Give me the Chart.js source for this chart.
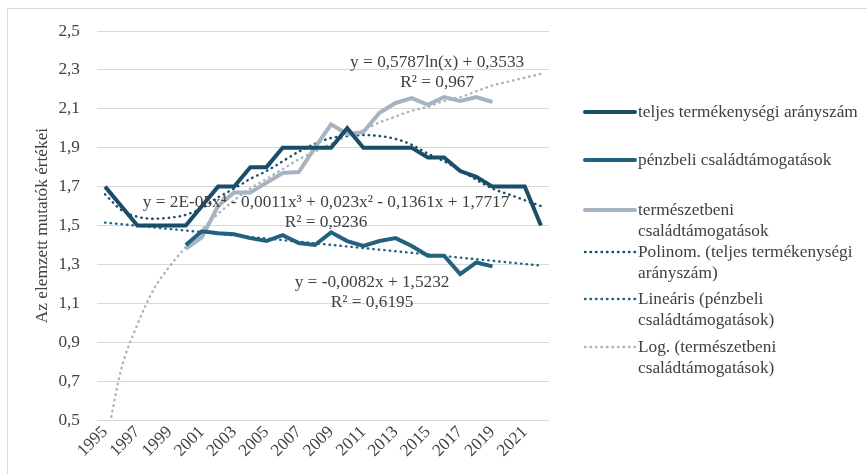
<!DOCTYPE html>
<html lang="hu">
<head>
  <meta charset="UTF-8" />
  <title>Termékenység és családtámogatások</title>
  <script src="https://cdn.jsdelivr.net/npm/chart.js"></script>
  <style>
    body { margin: 0; background: #fff; }
    #wrap { width: 867px; height: 474px; }
  </style>
</head>
<body>
  <div id="wrap"><canvas id="chart" width="867" height="474"></canvas></div>

  <script>
    const years = ['1995', '1996', '1997', '1998', '1999', '2000', '2001', '2002', '2003', '2004',
      '2005', '2006', '2007', '2008', '2009', '2010', '2011', '2012', '2013', '2014',
      '2015', '2016', '2017', '2018', '2019', '2020', '2021', '2022'];

    const teljes = [1.70, 1.60, 1.50, 1.50, 1.50, 1.50, 1.60, 1.70, 1.70, 1.80,
      1.80, 1.90, 1.90, 1.90, 1.90, 2.00, 1.90, 1.90, 1.90, 1.90,
      1.85, 1.85, 1.78, 1.75, 1.70, 1.70, 1.70, 1.50];

    const penzbeli = [null, null, null, null, null, 1.40, 1.47, 1.46, 1.455, 1.435,
      1.42, 1.45, 1.41, 1.40, 1.465, 1.42, 1.395, 1.42, 1.435, 1.395,
      1.345, 1.345, 1.25, 1.31, 1.29, null, null, null];

    const termeszetbeni = [null, null, null, null, null, 1.38, 1.44, 1.60, 1.67, 1.67,
      1.72, 1.77, 1.775, 1.90, 2.02, 1.97, 1.98, 2.08, 2.13, 2.155,
      2.12, 2.16, 2.14, 2.16, 2.135, null, null, null];

    // trendlines
    const polTrend = [1.66, 1.58, 1.545, 1.535, 1.54, 1.555, 1.59, 1.645, 1.69, 1.74,
      1.78, 1.83, 1.88, 1.92, 1.95, 1.96, 1.965, 1.96, 1.945, 1.915,
      1.87, 1.83, 1.785, 1.735, 1.69, 1.66, 1.63, 1.60];

    const linTrend = [1.515, null, null, null, null, null, null, null, null, null,
      null, null, null, null, null, null, null, null, null, null,
      null, null, null, null, null, null, null, 1.294];

    const logTrend = [0.35, 0.76, 0.99, 1.17, 1.29, 1.39, 1.48, 1.56, 1.63, 1.69,
      1.74, 1.79, 1.84, 1.88, 1.92, 1.96, 1.99, 2.03, 2.06, 2.09,
      2.11, 2.14, 2.16, 2.19, 2.22, 2.24, 2.26, 2.28];

    const legendLines = [
      ['teljes termékenységi arányszám'],
      ['pénzbeli családtámogatások'],
      ['természetbeni', 'családtámogatások'],
      ['Polinom. (teljes termékenységi', 'arányszám)'],
      ['Lineáris (pénzbeli', 'családtámogatások)'],
      ['Log. (természetbeni', 'családtámogatások)']
    ];

    const polEq = ['y = 2E-05x⁴ - 0,0011x³ + 0,023x² - 0,1361x + 1,7717', 'R² = 0,9236'];
    const linEq = ['y = -0,0082x + 1,5232', 'R² = 0,6195'];
    const logEq = ['y = 0,5787ln(x) + 0,3533', 'R² = 0,967'];

    const FONT = "'Liberation Serif', 'Times New Roman', serif";
    const FSIZE = 17.3;
    const textColor = '#404040';
    const cDark = '#1a4d68';
    const cBlue = '#22627f';
    const cGray = '#a6b4c1';

    // equation label placement: category index / value of the first line centre
    const eqPlace = [
      { lines: polEq, x: 13.69, y: 1.62 },
      { lines: linEq, x: 16.54, y: 1.205 },
      { lines: logEq, x: 20.57, y: 2.34 }
    ];
    const legendRows = [112, 160, 210, 252, 299, 347];

    const decor = {
      id: 'decor',
      beforeDraw(chart) {
        const ctx = chart.ctx;
        ctx.save();
        ctx.fillStyle = '#fff';
        ctx.fillRect(0, 0, chart.width, chart.height);
        ctx.strokeStyle = '#d9d9d9';
        ctx.lineWidth = 1;
        ctx.strokeRect(7.5, 8.5, chart.width, chart.height);
        ctx.restore();
      },
      afterDraw(chart) {
        const { ctx, scales: { x, y } } = chart;
        ctx.save();
        ctx.font = `${FSIZE}px ${FONT}`;
        ctx.fillStyle = textColor;
        ctx.textBaseline = 'middle';

        ctx.textAlign = 'center';
        eqPlace.forEach(p => {
          const px = x.getPixelForValue(p.x);
          const py = y.getPixelForValue(p.y);
          p.lines.forEach((t, i) => ctx.fillText(t, px, py + i * 20));
        });

        // legend
        ctx.textAlign = 'left';
        chart.data.datasets.forEach((ds, i) => {
          const ry = legendRows[i];
          ctx.save();
          ctx.strokeStyle = ds.borderColor;
          ctx.lineWidth = ds.borderWidth;
          ctx.lineCap = 'round';
          if (ds.borderDash) ctx.setLineDash(ds.borderDash);
          ctx.beginPath();
          ctx.moveTo(585, ry);
          ctx.lineTo(635, ry);
          ctx.stroke();
          ctx.restore();
          legendLines[i].forEach((t, j) => ctx.fillText(t, 638, ry + j * 21));
        });
        ctx.restore();
      }
    };

    const solid = (label, data, color) => ({
      label, data, borderColor: color, borderWidth: 4,
      pointRadius: 0, tension: 0, borderJoinStyle: 'miter', fill: false
    });
    const dotted = (label, data, color) => ({
      label, data, borderColor: color, borderWidth: 2.4,
      borderDash: [0.5, 5], borderCapStyle: 'round',
      pointRadius: 0, cubicInterpolationMode: 'monotone', spanGaps: true, fill: false
    });

    const ctx = document.getElementById('chart').getContext('2d');
    new Chart(ctx, {
      type: 'line',
      data: {
        labels: years,
        datasets: [
          solid('teljes termékenységi arányszám', teljes, cDark),
          solid('pénzbeli családtámogatások', penzbeli, cBlue),
          solid('természetbeni családtámogatások', termeszetbeni, cGray),
          dotted('Polinom. (teljes termékenységi arányszám)', polTrend, cDark),
          dotted('Lineáris (pénzbeli családtámogatások)', linTrend, cBlue),
          dotted('Log. (természetbeni családtámogatások)', logTrend, cGray)
        ]
      },
      options: {
        responsive: false,
        animation: false,
        layout: { padding: { left: 0, right: 318, top: 31, bottom: 0 } },
        plugins: {
          legend: { display: false },
          tooltip: { enabled: false }
        },
        scales: {
          x: {
            offset: true,
            grid: { display: false, drawTicks: false },
            border: { display: false },
            ticks: {
              autoSkip: false,
              minRotation: 45,
              maxRotation: 45,
              padding: 2,
              color: textColor,
              font: { family: FONT, size: FSIZE },
              callback: (v, i) => (i % 2 === 0 ? years[i] : '')
            },
            afterFit: s => { s.height = 54; }
          },
          y: {
            min: 0.5,
            max: 2.5,
            ticks: {
              stepSize: 0.2,
              padding: 17,
              color: textColor,
              font: { family: FONT, size: FSIZE },
              callback: v => v.toFixed(1).replace('.', ',')
            },
            grid: { color: '#d9d9d9', lineWidth: 1, drawTicks: false },
            border: { display: false },
            title: {
              display: true,
              text: 'Az elemzett mutatók értékei',
              color: textColor,
              font: { family: FONT, size: FSIZE },
              padding: { top: 32, bottom: 0 }
            },
            afterFit: s => { s.width = 97; }
          }
        }
      },
      plugins: [decor]
    });
  </script>
</body>
</html>
